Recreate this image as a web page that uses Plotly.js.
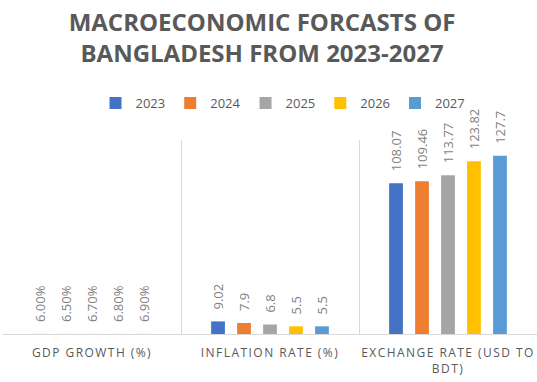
<!DOCTYPE html>
<html><head><meta charset="utf-8">
<script src="https://cdn.plot.ly/plotly-3.0.1.min.js"></script>
<style>html,body{margin:0;padding:0;background:#fff}</style>
</head><body><div id="chart" style="width:537px;height:382px"></div>
<script>
const categories = ["GDP GROWTH (%)", "INFLATION RATE (%)", "EXCHANGE RATE (USD TO BDT)"];
const years = ["2023", "2024", "2025", "2026", "2027"];
const v2023 = [0.0600, 9.02, 108.07];
const v2024 = [0.0650, 7.9, 109.46];
const v2025 = [0.0670, 6.8, 113.77];
const v2026 = [0.0680, 5.5, 123.82];
const v2027 = [0.0690, 5.5, 127.7];
const labels2023 = ["6.00%", "9.02", "108.07"];
const labels2024 = ["6.50%", "7.9", "109.46"];
const labels2025 = ["6.70%", "6.8", "113.77"];
const labels2026 = ["6.80%", "5.5", "123.82"];
const labels2027 = ["6.90%", "5.5", "127.7"];
const tickLabels = ["GDP GROWTH (%)", "INFLATION RATE (%)", "EXCHANGE RATE (USD TO<br>BDT)"];

const colors = ["#4472C4", "#ED7D31", "#A5A5A5", "#FFC000", "#5B9BD5"];
const series = [v2023, v2024, v2025, v2026, v2027];
const labels = [labels2023, labels2024, labels2025, labels2026, labels2027];
const pad = "\u00a0\u00a0\u2009";
const spaced = s => s.split("<br>").map(l => "<span style='letter-spacing:1.45px'>" + l + "</span>").join("<br>");

const data = series.map((vals, i) => ({
  type: "bar",
  name: years[i],
  x: categories,
  y: vals,
  text: labels[i].map(t => pad + t),
  textposition: "outside",
  textangle: -90,
  constraintext: "none",
  cliponaxis: false,
  textfont: {family: "Open Sans, sans-serif", size: 13, color: "#7f7f7f"},
  marker: {color: colors[i]},
  hoverinfo: "none"
}));

const layout = {
  width: 537, height: 382,
  margin: {l: 3, r: 0, t: 140, b: 48},
  paper_bgcolor: "#fff", plot_bgcolor: "#fff",
  barmode: "group",
  bargap: 0.27,
  bargroupgap: 0.47,
  showlegend: true,
  title: {
    text: "MACROECONOMIC FORCASTS OF<br>BANGLADESH FROM 2023-2027",
    font: {family: "Open Sans, sans-serif", size: 24, color: "#595959", weight: "bold"},
    x: 0.488, xref: "container", xanchor: "center",
    y: 0.919, yref: "container", yanchor: "middle"
  },
  legend: {
    orientation: "h",
    x: 0.527, xref: "container", xanchor: "center",
    y: 0.73, yref: "container", yanchor: "middle",
    bgcolor: "rgba(0,0,0,0)",
    font: {family: "Open Sans, sans-serif", size: 13, color: "#595959"},
    itemwidth: 30, traceorder: "normal"
  },
  xaxis: {
    type: "category",
    tickson: "boundaries",
    showgrid: true, gridcolor: "#d9d9d9", gridwidth: 1,
    showline: true, linecolor: "#d9d9d9", linewidth: 1,
    ticks: "",
    tickangle: 0,
    ticklabelstandoff: 8,
    tickvals: categories,
    ticktext: tickLabels.map(spaced),
    tickfont: {family: "Open Sans, sans-serif", size: 12, color: "#595959"},
    range: [-0.5, 2.5],
    fixedrange: true
  },
  yaxis: {
    range: [0, 139],
    showgrid: false, zeroline: false, showticklabels: false, ticks: "",
    fixedrange: true
  }
};
Plotly.newPlot("chart", data, layout, {displayModeBar: false, staticPlot: true});
</script></body></html>
